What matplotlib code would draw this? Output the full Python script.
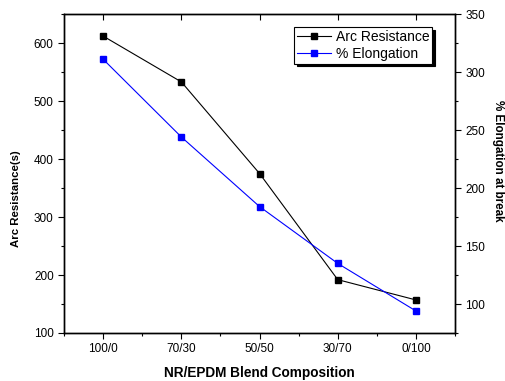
import matplotlib
matplotlib.use("Agg")
import matplotlib.pyplot as plt
from matplotlib.ticker import MultipleLocator

plt.rcParams['font.family'] = ['Liberation Sans', 'DejaVu Sans']

blends = ["100/0", "70/30", "50/50", "30/70", "0/100"]
arc_resistance = [612, 533, 375, 192, 157]
elongation = [311, 244, 184, 135, 94]

fig = plt.figure(figsize=(5.05, 3.81), dpi=100)
ax = fig.add_axes([0.127, 0.126, 0.774, 0.837])
ax2 = ax.twinx()

x = list(range(len(blends)))
l1, = ax.plot(x, arc_resistance, color="black", marker="s", markersize=4.5,
              linewidth=0.8, label="Arc Resistance")
l2, = ax2.plot(x, elongation, color="blue", marker="s", markersize=4.5,
               linewidth=0.8, label="% Elongation")

ax.set_xlim(-0.5, 4.5)
ax.set_ylim(100, 650)
ax2.set_ylim(75, 350)

ax.set_xticks(x)
ax.set_xticklabels(blends)
ax.xaxis.set_minor_locator(MultipleLocator(0.5))
ax.yaxis.set_major_locator(MultipleLocator(100))
ax.yaxis.set_minor_locator(MultipleLocator(50))
ax2.yaxis.set_major_locator(MultipleLocator(50))
ax2.yaxis.set_minor_locator(MultipleLocator(25))

ax.tick_params(axis="both", which="major", labelsize=8.5, length=4, width=0.8, direction="out")
ax.tick_params(axis="both", which="minor", length=2, width=0.8, direction="out")
ax.tick_params(axis="x", which="major", top=True, labeltop=False)
ax2.tick_params(axis="y", which="major", labelsize=8.5, length=4, width=0.8, direction="out")
ax2.tick_params(axis="y", which="minor", length=2, width=0.8, direction="out")

# top ticks point inward
for t in ax.xaxis.get_major_ticks():
    t.tick2line.set_marker(3)

for s in ax.spines.values():
    s.set_linewidth(1.0)
for s in ax2.spines.values():
    s.set_linewidth(1.0)

ax.set_xlabel("NR/EPDM Blend Composition", fontsize=9.8, fontweight="bold")
ax.xaxis.set_label_coords(0.5, -0.105)
ax.set_ylabel("Arc Resistance(s)", fontsize=8.2, fontweight="bold")
ax.yaxis.set_label_coords(-0.11, 0.42)
ax2.set_ylabel("% Elongation at break", fontsize=8.4, fontweight="bold", rotation=270)
ax2.yaxis.set_label_coords(1.125, 0.54)

leg = ax2.legend([l1, l2], ["Arc Resistance", "% Elongation"], loc="upper right",
                 bbox_to_anchor=(0.941, 0.959), borderaxespad=0, fontsize=10,
                 numpoints=1, handlelength=2.5, handletextpad=0.3, borderpad=0.2,
                 labelspacing=0.2, fancybox=False, framealpha=1,
                 edgecolor="black", shadow={"color": "black", "alpha": 1})
leg.get_frame().set_linewidth(0.8)

fig.savefig("out.png", dpi=100)
